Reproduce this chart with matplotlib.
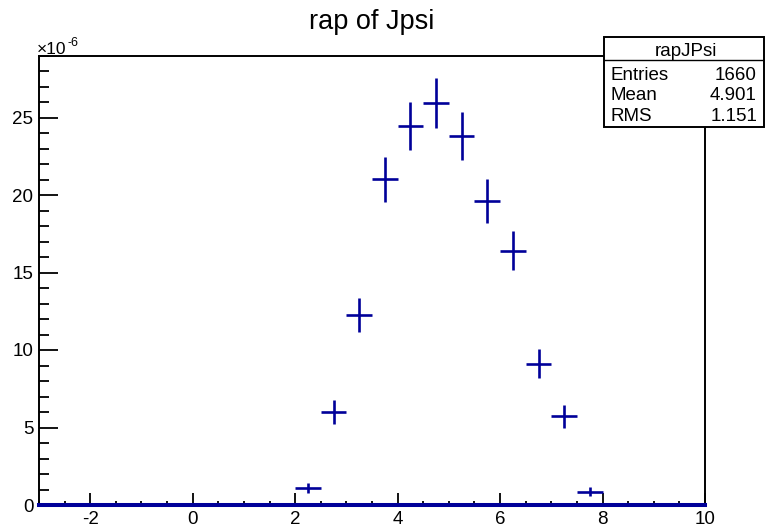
import numpy as np
import matplotlib
matplotlib.use("Agg")
import matplotlib.pyplot as plt
from matplotlib.patches import Rectangle
from matplotlib.lines import Line2D
from matplotlib.ticker import MultipleLocator

plt.rcParams['font.family'] = ['Liberation Sans', 'DejaVu Sans']
plt.rcParams['axes.unicode_minus'] = False

# rapidity histogram of J/psi, 0.5 wide bins (values in units of 1e-6)
bin_centers = [2.25, 2.75, 3.25, 3.75, 4.25, 4.75, 5.25, 5.75, 6.25, 6.75, 7.25, 7.75]
bin_values = [1.10, 6.02, 12.24, 21.03, 24.45, 25.95, 23.83, 19.61, 16.41, 9.12, 5.72, 0.84]
bin_errors = [0.33, 0.78, 1.11, 1.45, 1.56, 1.61, 1.54, 1.40, 1.28, 0.95, 0.76, 0.29]
bin_width = 0.5

hist_name = "rapJPsi"
stats = [("Entries", "1660"), ("Mean", "4.901"), ("RMS", "1.151")]

W, H = 765, 527
blue = '#000099'

fig = plt.figure(figsize=(W / 100, H / 100), dpi=100)
ax = fig.add_axes([39 / W, 1 - 505 / H, (705 - 39) / W, (505 - 55.5) / H])

ax.errorbar(bin_centers, bin_values, xerr=bin_width / 2, yerr=bin_errors,
            fmt='none', ecolor=blue, elinewidth=1.9, capsize=0, zorder=3)
ax.axhline(0, color=blue, lw=2.9, zorder=4, clip_on=False)

ax.set_xlim(-3, 10)
ax.set_ylim(0, 29.0)

ax.xaxis.set_major_locator(MultipleLocator(2))
ax.xaxis.set_minor_locator(MultipleLocator(0.5))
ax.yaxis.set_major_locator(MultipleLocator(5))
ax.yaxis.set_minor_locator(MultipleLocator(1))

for s in ax.spines.values():
    s.set_linewidth(1.4)
ax.tick_params(which='both', direction='in', top=False, right=False, width=1.3,
               labelsize=13.5, colors='black')
ax.tick_params(axis='x', which='major', length=8.5, pad=4)
ax.tick_params(axis='x', which='minor', length=3.2)
ax.tick_params(axis='y', which='major', length=13.5, pad=4)
ax.tick_params(axis='y', which='minor', length=7)

# exponent marker above the y axis
fig.text(37 / W, 1 - 54 / H, "\u00d710", fontsize=12.5, va='baseline', ha='left')
fig.text(68 / W, 1 - 46.5 / H, "-6", fontsize=9, va='baseline', ha='left')

fig.text(372 / W, 1 - 29 / H, "rap of Jpsi", fontsize=19.5, ha='center', va='baseline')

# statistics box
bx0, bx1, by0, by1 = 604, 764, 37, 127
fig.add_artist(Rectangle((bx0 / W, 1 - by1 / H), (bx1 - bx0) / W, (by1 - by0) / H,
                         transform=fig.transFigure, facecolor='white',
                         edgecolor='black', lw=1.4, zorder=5))
fig.add_artist(Line2D([bx0 / W, bx1 / W], [1 - 60 / H, 1 - 60 / H],
                      transform=fig.transFigure, color='black', lw=1.0, zorder=6))
fig.text((bx0 + bx1) / 2 / W + 2 / W, 1 - 55.5 / H, hist_name, fontsize=13.5,
         ha='center', va='baseline', zorder=7)
for i, (k, v) in enumerate(stats):
    y = 1 - (80 + 20.3 * i) / H
    fig.text(611 / W, y, k, fontsize=13.5, ha='left', va='baseline', zorder=7)
    fig.text(757 / W, y, v, fontsize=13.5, ha='right', va='baseline', zorder=7)

fig.savefig("out.png", dpi=100)
